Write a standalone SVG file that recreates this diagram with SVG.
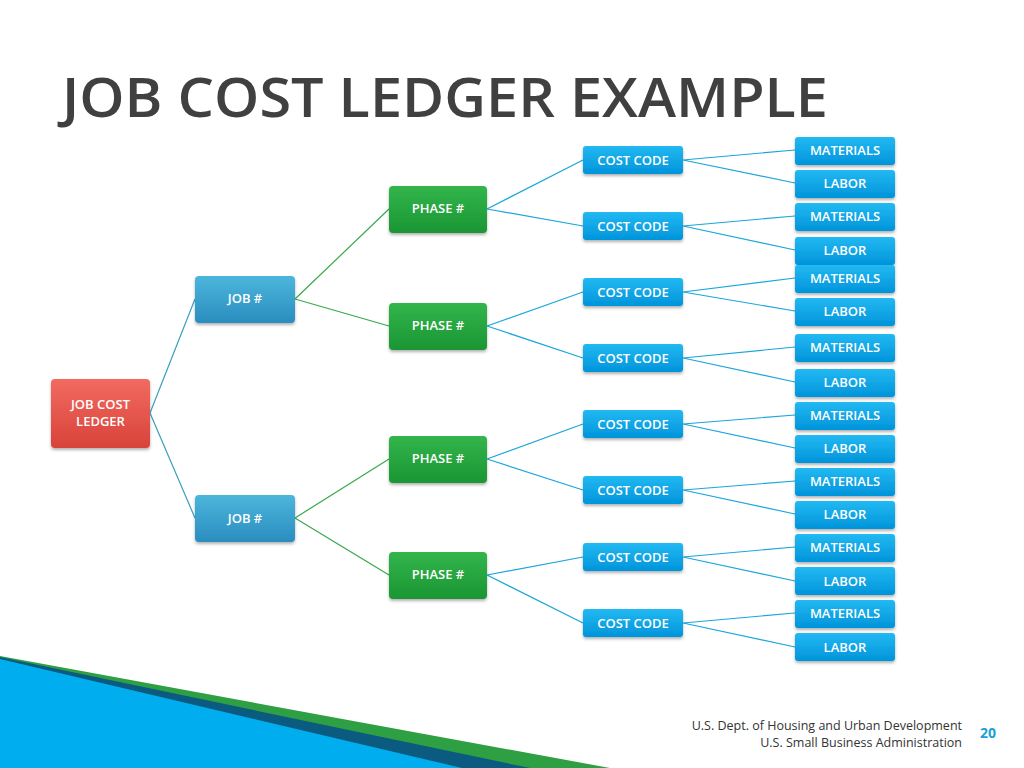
<svg xmlns="http://www.w3.org/2000/svg" width="1024" height="768" viewBox="0 0 1024 768">
<defs>
<linearGradient id="gb" x1="0" y1="0" x2="0" y2="1"><stop offset="0" stop-color="#22b9f2"/><stop offset="1" stop-color="#0094da"/></linearGradient>
<linearGradient id="gg" x1="0" y1="0" x2="0" y2="1"><stop offset="0" stop-color="#33b54c"/><stop offset="1" stop-color="#1a9633"/></linearGradient>
<linearGradient id="gj" x1="0" y1="0" x2="0" y2="1"><stop offset="0" stop-color="#4cb6dc"/><stop offset="1" stop-color="#2a8dbf"/></linearGradient>
<linearGradient id="gr" x1="0" y1="0" x2="0" y2="1"><stop offset="0" stop-color="#f26a60"/><stop offset="1" stop-color="#d8433a"/></linearGradient>
<filter id="sh" x="-10%" y="-10%" width="130%" height="140%"><feDropShadow dx="0" dy="2" stdDeviation="1.5" flood-color="#000" flood-opacity="0.3"/></filter>
</defs>
<style>
text{font-family:"Open Sans","Liberation Sans",sans-serif;}
.t{fill:#fff;font-size:13px;font-weight:600;text-anchor:middle;}
.b{fill:url(#gb);filter:url(#sh);}
.g{fill:url(#gg);filter:url(#sh);}
.j{fill:url(#gj);filter:url(#sh);}
.r{fill:url(#gr);filter:url(#sh);}
.cb{stroke:#1aa6dc;stroke-width:1.2;fill:none;}
.cg{stroke:#3aa84a;stroke-width:1.2;fill:none;}
.ct{stroke:#3a9fbf;stroke-width:1.2;fill:none;}
</style>
<rect width="1024" height="768" fill="#fff"/>
<text x="62" y="117" font-size="54" font-weight="600" fill="#404040" textLength="766" lengthAdjust="spacingAndGlyphs">JOB COST LEDGER EXAMPLE</text>
<polygon points="0,656 610,768 0,768" fill="#2ea043"/>
<polygon points="0,657 530,768 0,768" fill="#0b5a80"/>
<polygon points="0,659 462,768 0,768" fill="#00aeef"/>
<g id="connectors">
<path class="ct" d="M150,413 L195,299 M150,413 L195,518"/>
<path class="cg" d="M295,299 L389,209 M295,299 L389,326 M295,518 L389,459 M295,518 L389,575"/>
<path class="cb" d="M487,209 L583,160 M487,209 L583,226 M487,326 L583,292 M487,326 L583,358 M487,459 L583,424 M487,459 L583,490 M487,575 L583,557 M487,575 L583,623"/>
<path class="cb" d="M683,160 L795,150 M683,160 L795,183 M683,226 L795,216 M683,226 L795,250 M683,292 L795,278 M683,292 L795,311 M683,358 L795,347 M683,358 L795,382 M683,424 L795,415 M683,424 L795,448 M683,490 L795,481 M683,490 L795,514 M683,557 L795,547 M683,557 L795,581 M683,623 L795,613 M683,623 L795,647"/>
</g>
<g id="ledger"><rect class="r" x="51" y="379" width="99" height="69" rx="4"/><text class="t" x="100.5" y="409">JOB COST</text><text class="t" x="100.5" y="426">LEDGER</text></g>
<g id="job1"><rect class="j" x="195" y="276" width="100" height="47" rx="4"/><text class="t" x="245" y="303">JOB #</text></g>
<g id="job2"><rect class="j" x="195" y="495" width="100" height="47" rx="4"/><text class="t" x="245" y="523">JOB #</text></g>
<g id="phase1"><rect class="g" x="389" y="186" width="98" height="47" rx="4"/><text class="t" x="438" y="213">PHASE #</text></g>
<g id="phase2"><rect class="g" x="389" y="303" width="98" height="47" rx="4"/><text class="t" x="438" y="330">PHASE #</text></g>
<g id="phase3"><rect class="g" x="389" y="436" width="98" height="47" rx="4"/><text class="t" x="438" y="463">PHASE #</text></g>
<g id="phase4"><rect class="g" x="389" y="552" width="98" height="47" rx="4"/><text class="t" x="438" y="579">PHASE #</text></g>
<g id="cc1"><rect class="b" x="583" y="146" width="100" height="28" rx="3"/><text class="t" x="633" y="165">COST CODE</text></g>
<g id="cc2"><rect class="b" x="583" y="212" width="100" height="28" rx="3"/><text class="t" x="633" y="231">COST CODE</text></g>
<g id="cc3"><rect class="b" x="583" y="278" width="100" height="28" rx="3"/><text class="t" x="633" y="297">COST CODE</text></g>
<g id="cc4"><rect class="b" x="583" y="344" width="100" height="28" rx="3"/><text class="t" x="633" y="363">COST CODE</text></g>
<g id="cc5"><rect class="b" x="583" y="410" width="100" height="28" rx="3"/><text class="t" x="633" y="429">COST CODE</text></g>
<g id="cc6"><rect class="b" x="583" y="476" width="100" height="28" rx="3"/><text class="t" x="633" y="495">COST CODE</text></g>
<g id="cc7"><rect class="b" x="583" y="543" width="100" height="28" rx="3"/><text class="t" x="633" y="562">COST CODE</text></g>
<g id="cc8"><rect class="b" x="583" y="609" width="100" height="28" rx="3"/><text class="t" x="633" y="628">COST CODE</text></g>
<g id="l1"><rect class="b" x="795" y="137" width="100" height="28" rx="3"/><text class="t" x="845" y="155">MATERIALS</text></g>
<g id="l2"><rect class="b" x="795" y="170" width="100" height="28" rx="3"/><text class="t" x="845" y="188">LABOR</text></g>
<g id="l3"><rect class="b" x="795" y="203" width="100" height="28" rx="3"/><text class="t" x="845" y="221">MATERIALS</text></g>
<g id="l4"><rect class="b" x="795" y="237" width="100" height="28" rx="3"/><text class="t" x="845" y="255">LABOR</text></g>
<g id="l5"><rect class="b" x="795" y="265" width="100" height="28" rx="3"/><text class="t" x="845" y="283">MATERIALS</text></g>
<g id="l6"><rect class="b" x="795" y="298" width="100" height="28" rx="3"/><text class="t" x="845" y="316">LABOR</text></g>
<g id="l7"><rect class="b" x="795" y="334" width="100" height="28" rx="3"/><text class="t" x="845" y="352">MATERIALS</text></g>
<g id="l8"><rect class="b" x="795" y="369" width="100" height="28" rx="3"/><text class="t" x="845" y="387">LABOR</text></g>
<g id="l9"><rect class="b" x="795" y="402" width="100" height="28" rx="3"/><text class="t" x="845" y="420">MATERIALS</text></g>
<g id="l10"><rect class="b" x="795" y="435" width="100" height="28" rx="3"/><text class="t" x="845" y="453">LABOR</text></g>
<g id="l11"><rect class="b" x="795" y="468" width="100" height="28" rx="3"/><text class="t" x="845" y="486">MATERIALS</text></g>
<g id="l12"><rect class="b" x="795" y="501" width="100" height="28" rx="3"/><text class="t" x="845" y="519">LABOR</text></g>
<g id="l13"><rect class="b" x="795" y="534" width="100" height="28" rx="3"/><text class="t" x="845" y="552">MATERIALS</text></g>
<g id="l14"><rect class="b" x="795" y="567" width="100" height="28" rx="3"/><text class="t" x="845" y="586">LABOR</text></g>
<g id="l15"><rect class="b" x="795" y="600" width="100" height="28" rx="3"/><text class="t" x="845" y="618">MATERIALS</text></g>
<g id="l16"><rect class="b" x="795" y="633" width="100" height="28" rx="3"/><text class="t" x="845" y="652">LABOR</text></g>
<text x="962" y="730" font-size="12.5" fill="#333" text-anchor="end">U.S. Dept. of Housing and Urban Development</text>
<text x="962" y="747" font-size="12.5" fill="#333" text-anchor="end">U.S. Small Business Administration</text>
<text x="988" y="738" font-size="14" font-weight="bold" fill="#1a9fd8" text-anchor="middle">20</text>
</svg>
